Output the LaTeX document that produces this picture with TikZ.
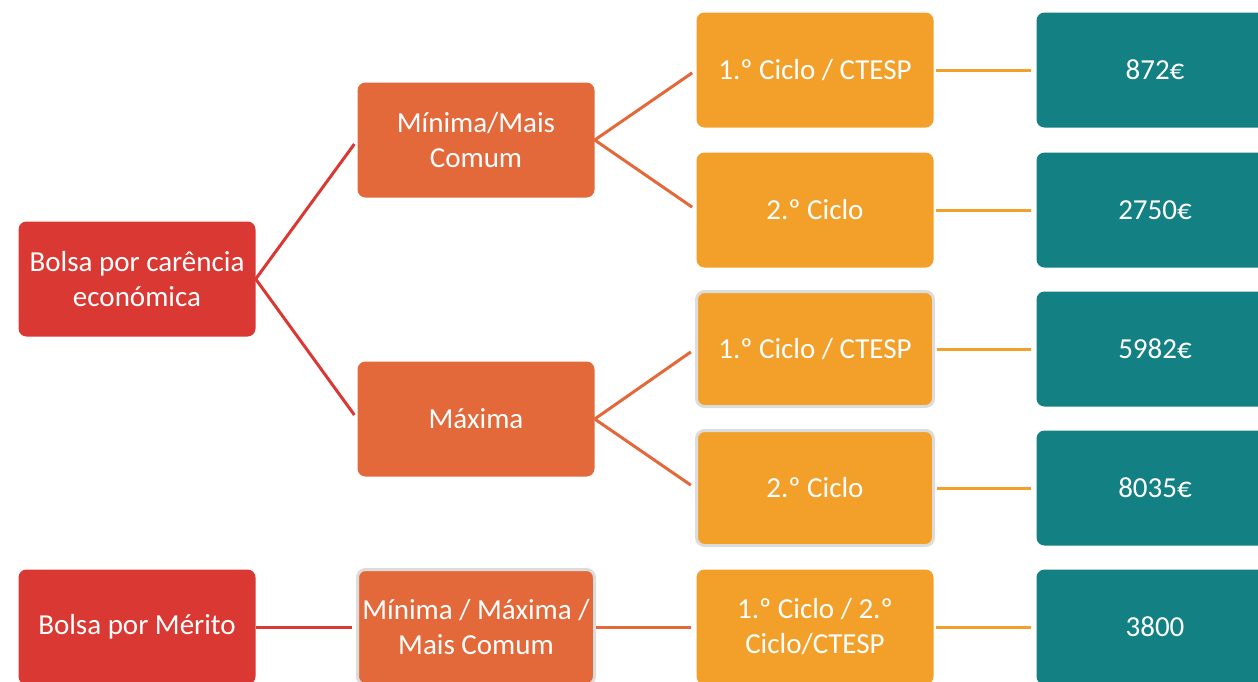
\documentclass[tikz,border=0pt]{standalone}
\usepackage{fontspec}
\setmainfont{Carlito}
\definecolor{cred}{HTML}{DA3832}
\definecolor{corange}{HTML}{E3693A}
\definecolor{cyellow}{HTML}{F2A02A}
\definecolor{cteal}{HTML}{138083}
\definecolor{cgray}{HTML}{DCDCDC}
\begin{document}
\begin{tikzpicture}[x=1pt,y=-1pt,
  box/.style={rounded corners=8pt, minimum width=237pt, minimum height=115pt, inner sep=0pt, align=center, text=white, font=\fontsize{29}{35}\selectfont},
  redbox/.style={box, fill=cred},
  orbox/.style={box, fill=corange},
  yebox/.style={box, fill=cyellow},
  tebox/.style={box, fill=cteal},
  grayb/.style={draw=cgray, line width=3pt},
  redline/.style={draw=cred, line width=3pt},
  orline/.style={draw=corange, line width=3pt},
  yeline/.style={draw=cyellow, line width=3pt}
]
\useasboundingbox (0,0) rectangle (1258,681);
\clip (0,0) rectangle (1258,681);
% level 0
\node[redbox] (r1) at (137,279) {Bolsa por carência\\económica};
\node[redbox] (r2) at (137,627) {Bolsa por Mérito};
% level 1
\node[orbox] (o1) at (476,140) {Mínima/Mais\\Comum};
\node[orbox] (o2) at (476,419) {Máxima};
\node[orbox,grayb] (o3) at (476,627) {Mínima / Máxima /\\Mais Comum};
% level 2
\node[yebox] (y1) at (815,70) {1.º Ciclo / CTESP};
\node[yebox] (y2) at (815,210) {2.º Ciclo};
\node[yebox,grayb] (y3) at (815,349) {1.º Ciclo / CTESP};
\node[yebox,grayb] (y4) at (815,488) {2.º Ciclo};
\node[yebox] (y5) at (815,627) {1.º Ciclo / 2.º\\Ciclo/CTESP};
% level 3
\node[tebox] (t1) at (1155,70) {872€};
\node[tebox] (t2) at (1155,210) {2750€};
\node[tebox] (t3) at (1155,349) {5982€};
\node[tebox] (t4) at (1155,488) {8035€};
\node[tebox] (t5) at (1155,627) {3800};
% connectors
\draw[redline, shorten >=5pt] (r1.east) -- (o1.west);
\draw[redline, shorten >=5pt] (r1.east) -- (o2.west);
\draw[redline, shorten >=4pt] (r2.east) -- (o3.west);
\draw[orline, shorten >=5pt] (o1.east) -- (y1.west);
\draw[orline, shorten >=5pt] (o1.east) -- (y2.west);
\draw[orline, shorten >=5pt] (o2.east) -- (y3.west);
\draw[orline, shorten >=5pt] (o2.east) -- (y4.west);
\draw[orline, shorten >=5pt] (o3.east) -- (y5.west);
\draw[yeline, shorten <=2pt, shorten >=5pt] (y1.east) -- (t1.west);
\draw[yeline, shorten <=2pt, shorten >=5pt] (y2.east) -- (t2.west);
\draw[yeline, shorten <=2pt, shorten >=5pt] (y3.east) -- (t3.west);
\draw[yeline, shorten <=2pt, shorten >=5pt] (y4.east) -- (t4.west);
\draw[yeline, shorten <=2pt, shorten >=5pt] (y5.east) -- (t5.west);
\end{tikzpicture}
\end{document}
